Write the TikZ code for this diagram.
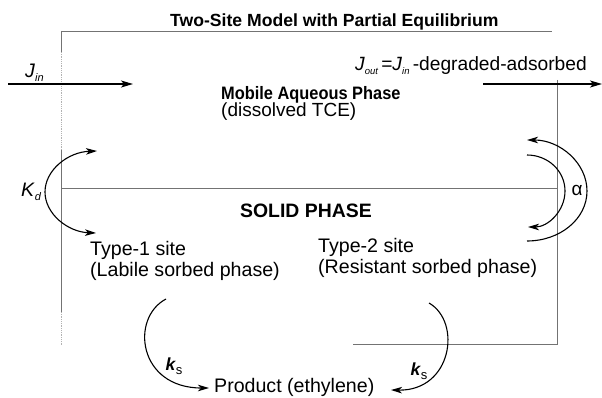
\documentclass[tikz,border=0pt]{standalone}
\usepackage{fontspec}
\setmainfont{Liberation Sans}
\usetikzlibrary{arrows.meta}
\newcommand{\mysub}[1]{\raisebox{-0.35ex}{\fontsize{11}{11}\selectfont\itshape #1}}
\newcommand{\mysubs}[1]{\raisebox{-0.35ex}{\fontsize{9.5}{10}\selectfont\itshape #1}}
\begin{document}
\begin{tikzpicture}[x=1pt,y=-1pt,
  boxline/.style={draw=black!55,line width=0.9pt},
  faintline/.style={draw=black!30,line width=0.8pt,densely dotted},
  flow/.style={draw=black,line width=1.3pt,-{Stealth[length=12pt,width=7pt,inset=3pt]}},
  react/.style={draw=black,line width=1.1pt,-{Stealth[length=11pt,width=6.5pt,inset=3pt]}},
  react2/.style={draw=black,line width=1.1pt,{Stealth[length=11pt,width=6.5pt,inset=3pt]}-{Stealth[length=11pt,width=6.5pt,inset=3pt]}},
  txt/.style={inner sep=0pt,anchor=base west,font=\fontsize{19.6}{22}\selectfont},
  btxt/.style={inner sep=0pt,anchor=base west,font=\fontsize{19}{22}\selectfont\bfseries}]
\useasboundingbox (0,0) rectangle (602,398);
% box lines
\coordinate (tl) at (61,31);
\coordinate (tr) at (552,31);
\coordinate (l1) at (61,52);
\coordinate (l2) at (61,150);
\coordinate (l3) at (61,312);
\coordinate (l4) at (61,345);
\coordinate (ml) at (61,188);
\coordinate (mr) at (557,188);
\coordinate (rt) at (557,80);
\coordinate (rb) at (557,344);
\coordinate (bl) at (353,344);
\draw[boxline] (tl) -- (tr);
\draw[boxline] (tl) -- (l1);
\draw[faintline] (l1) -- (l2);
\draw[boxline] (l2) -- (l3);
\draw[faintline] (l3) -- (l4);
\draw[boxline] (ml) -- (mr);
\draw[boxline] (rt) -- (rb) -- (bl);
% texts
\node[btxt,font=\fontsize{17.6}{20}\selectfont\bfseries] (title) at (170,27) {Two-Site Model with Partial Equilibrium};
\node[txt] (jin) at (25,78) {\textit{J}\mysub{in}};
\node[txt,anchor=base east,font=\fontsize{19.2}{22}\selectfont] (jout) at (587,71) {\textit{J}\mysubs{out}\,=\textit{J}\mysubs{in}\,-degraded-adsorbed};
\node[btxt,font=\fontsize{18}{20}\selectfont\bfseries] (mobile) at (221,100) {\scalebox{0.91}[1]{Mobile Aqueous Phase}};
\node[txt,font=\fontsize{19}{22}\selectfont] (diss) at (221,117) {(dissolved TCE)};
\node[btxt,font=\fontsize{19.4}{22}\selectfont\bfseries] (solid) at (240,217) {SOLID PHASE};
\node[txt] (t1a) at (90,255) {Type-1 site};
\node[txt] (t1b) at (90,276) {(Labile sorbed phase)};
\node[txt] (t2a) at (318,252) {Type-2 site};
\node[txt] (t2b) at (318,273) {(Resistant sorbed phase)};
\node[txt] (prod) at (214,392) {Product (ethylene)};
\node[inner sep=0pt,font=\fontsize{19.5}{22}\selectfont] (kd) at (31,192) {\textit{K}\mysub{d}};
\node[inner sep=0pt,font=\fontsize{19}{20}\selectfont] (alpha) at (577,190) {α};
\node[inner sep=0pt,font=\fontsize{17.5}{18}\selectfont] (ks1) at (174,366) {\textbf{\textit{k}}\raisebox{-0.45ex}{\fontsize{13}{13}\selectfont s}};
\node[inner sep=0pt,font=\fontsize{17.5}{18}\selectfont] (ks2) at (419,371) {\textbf{\textit{k}}\raisebox{-0.45ex}{\fontsize{13}{13}\selectfont s}};
% flow arrows
\coordinate (jinS) at (8,84);
\coordinate (jinE) at (133,84);
\coordinate (joutS) at (483,84);
\coordinate (joutE) at (602,84);
\draw[flow] (jinS) -- (jinE);
\draw[flow] (joutS) -- (joutE);
% Kd arc
\coordinate (kdT) at (97,151);
\coordinate (kdL) at (45,192);
\coordinate (kdB) at (96,233);
\draw[react2] (kdT) .. controls (68,152) and (45,170) .. (kdL) .. controls (45,214) and (68,232) .. (kdB);
% alpha arcs
\coordinate (aoB) at (527,241);
\coordinate (aoR) at (587,191);
\coordinate (aoT) at (527,140);
\draw[react] (aoB) .. controls (560,241) and (587,219) .. (aoR) .. controls (587,163) and (560,140) .. (aoT);
\coordinate (aiT) at (527,155);
\coordinate (aiR) at (565,191);
\coordinate (aiB) at (528,227);
\draw[react] (aiT) .. controls (548,155) and (565,171) .. (aiR) .. controls (565,211) and (548,227) .. (aiB);
% ks arcs
\coordinate (k1T) at (166,299);
\coordinate (k1E) at (209,388);
\draw[react] (k1T) .. controls (130,318) and (138,388) .. (k1E);
\coordinate (k2T) at (429,303);
\coordinate (k2E) at (391,390);
\draw[react] (k2T) .. controls (462,322) and (452,391) .. (k2E);
\end{tikzpicture}
\end{document}
